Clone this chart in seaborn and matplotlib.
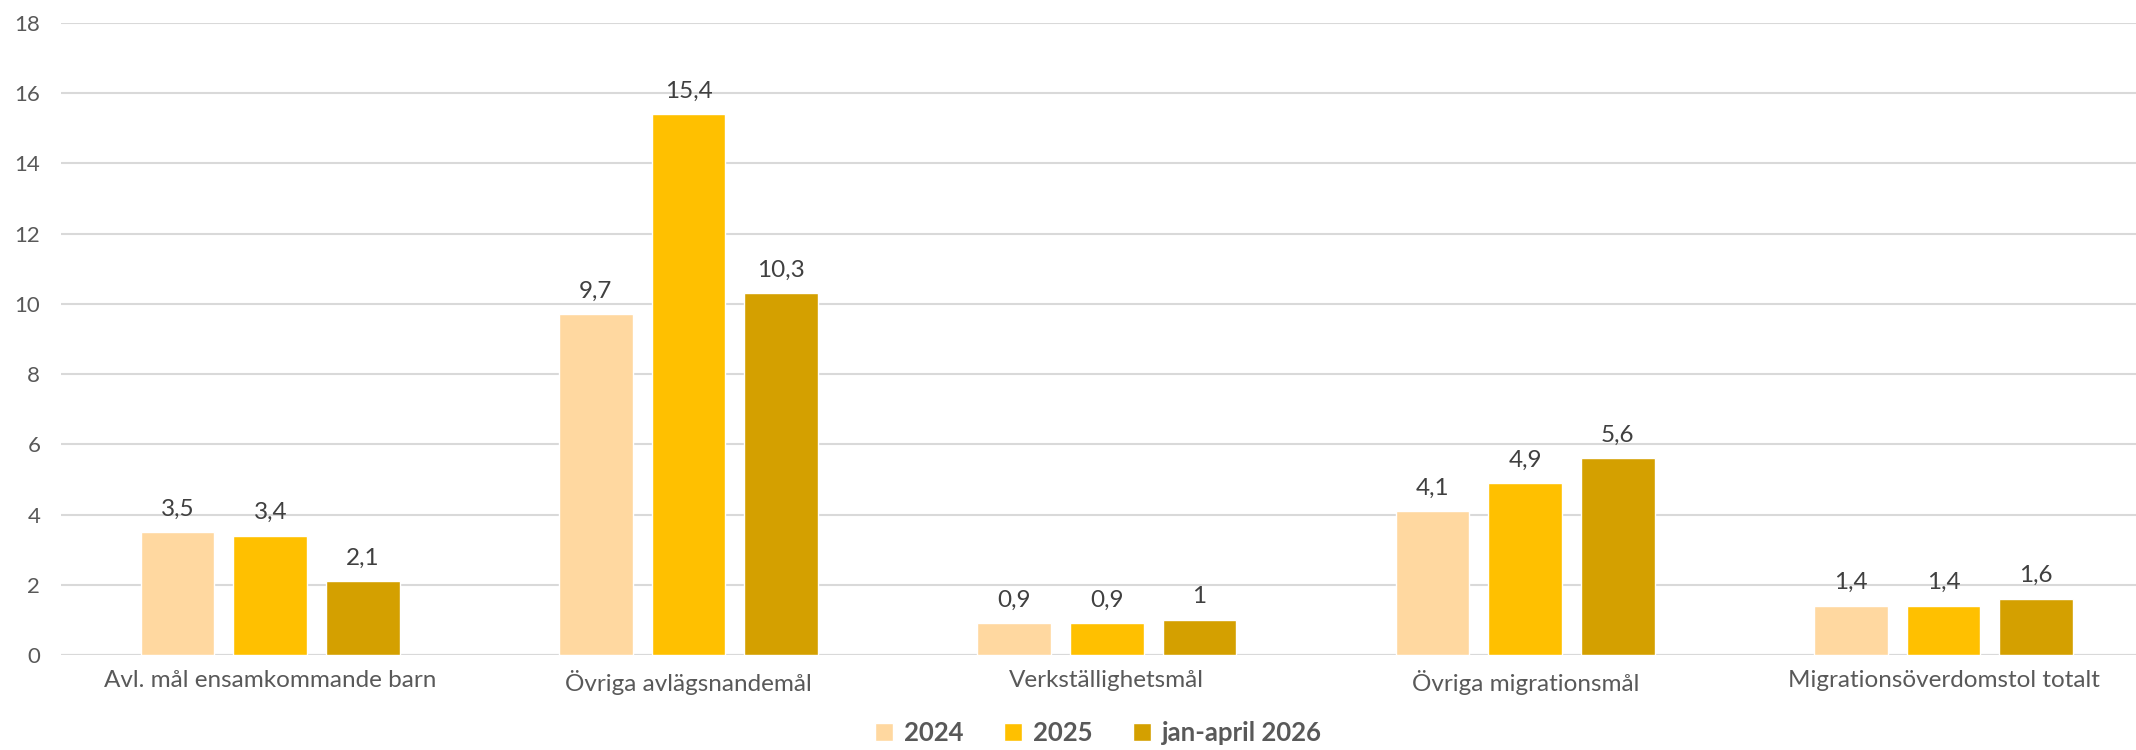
import matplotlib
matplotlib.use("Agg")
import matplotlib.pyplot as plt
import seaborn as sns
import pandas as pd

categories = [
    "Avl. mål ensamkommande barn",
    "Övriga avlägsnandemål",
    "Verkställighetsmål",
    "Övriga migrationsmål",
    "Migrationsöverdomstol totalt",
]
series_names = ["2024", "2025", "jan-april 2026"]
values_2024 = [3.5, 9.7, 0.9, 4.1, 1.4]
values_2025 = [3.4, 15.4, 0.9, 4.9, 1.4]
values_2026 = [2.1, 10.3, 1.0, 5.6, 1.6]
y_ticks = [0, 2, 4, 6, 8, 10, 12, 14, 16, 18]

colors = ["#FFD8A0", "#FFC000", "#D4A000"]
text_color = "#595959"


def fmt(v):
    """Swedish number format: comma decimal, drop trailing ,0"""
    if float(v).is_integer():
        return str(int(v))
    return f"{v:.1f}".replace(".", ",")


def main():
    df = pd.DataFrame({
        "kategori": categories * 3,
        "serie": [series_names[0]] * 5 + [series_names[1]] * 5
        + [series_names[2]] * 5,
        "varde": values_2024 + values_2025 + values_2026,
    })

    sns.set_theme(style="white")
    plt.rcParams["font.family"] = ["Lato", "DejaVu Sans"]

    fig = plt.figure(figsize=(21.36, 7.5), dpi=100)
    ax = fig.add_axes([0.0286, 0.1267, 0.9714, 0.8427])

    sns.barplot(
        data=df, x="kategori", y="varde", hue="serie",
        palette=colors, width=0.6645, gap=0.205, ax=ax,
        saturation=1, legend=True,
    )

    for cont in ax.containers:
        ax.bar_label(cont, labels=[fmt(v) for v in cont.datavalues],
                     padding=9, fontsize=17.5, color="#404040")

    ax.set_ylim(0, 18)
    ax.set_xlim(-0.5, 4.46)
    ax.set_yticks(y_ticks)
    ax.set_yticklabels([str(t) for t in y_ticks])
    ax.yaxis.grid(True, color="#d9d9d9", linewidth=1.5)
    ax.set_axisbelow(True)
    for s in ["top", "right", "left", "bottom"]:
        ax.spines[s].set_visible(False)
    ax.axhline(0, color="#d9d9d9", linewidth=1.5, zorder=0.5)
    ax.tick_params(axis="both", length=0, colors=text_color)
    ax.tick_params(axis="x", pad=11, labelsize=17.5)
    ax.tick_params(axis="y", pad=15, labelsize=16)
    ax.set_xlabel("")
    ax.set_ylabel("")

    leg = ax.legend(
        loc="upper center", bbox_to_anchor=(0.5, -0.08), ncol=3,
        frameon=False, handlelength=0.7, handleheight=0.7,
        columnspacing=1.6, handletextpad=0.4, borderpad=0.1,
        prop={"weight": "bold", "size": 18.5},
    )
    for t in leg.get_texts():
        t.set_color(text_color)

    fig.savefig("out.png", dpi=100)


if __name__ == "__main__":
    main()
